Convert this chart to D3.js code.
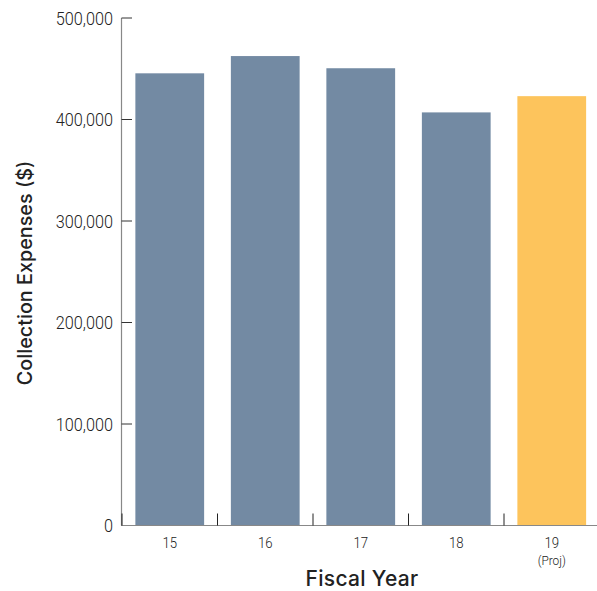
<!DOCTYPE html>
<html><head><meta charset="utf-8">
<script src="https://cdn.jsdelivr.net/npm/d3@7"></script>
<style>body{margin:0;background:#fff}svg{display:block}</style>
</head><body>
<script>
const categories = ["15", "16", "17", "18", "19"];
const subLabels = ["", "", "", "", "(Proj)"];
const values = [445500, 462500, 450500, 407000, 423000];
const projected = [false, false, false, false, true];
const yTicks = [0, 100000, 200000, 300000, 400000, 500000];

const W = 597, H = 591;
const svg = d3.select("body").append("svg").attr("width", W).attr("height", H);

const x = d3.scaleBand().domain(categories).range([122, 599.5]).paddingInner(0.28).paddingOuter(0.14);
const y = d3.scaleLinear().domain([0, 500000]).range([525.5, 18]);

// bars
svg.selectAll("rect.bar").data(values).enter().append("rect")
  .attr("x", (d, i) => x(categories[i]))
  .attr("width", x.bandwidth())
  .attr("y", d => y(d))
  .attr("height", d => y(0) - y(d))
  .attr("fill", (d, i) => projected[i] ? "#fdc45c" : "#738aa3");

// y axis
const fmt = d3.format(",");
svg.append("line").attr("x1", 121.5).attr("x2", 121.5).attr("y1", y(500000)).attr("y2", y(0))
  .attr("stroke", "#888").attr("stroke-width", 1.2);
svg.selectAll("line.yt").data(yTicks).enter().append("line")
  .attr("x1", 121.5).attr("x2", 132).attr("y1", d => y(d)).attr("y2", d => y(d))
  .attr("stroke", "#333").attr("stroke-width", 1);
svg.selectAll("text.yl").data(yTicks).enter().append("text")
  .attr("x", 113).attr("y", d => y(d)).attr("dy", "0.36em")
  .attr("text-anchor", "end")
  .attr("font-family", "Roboto").attr("font-weight", 300).attr("font-size", 18.5)
  .attr("fill", "#222")
  .attr("transform", d => `translate(${113},0) scale(0.88,1) translate(${-113},0)`)
  .text(d => fmt(d));

// x axis
svg.append("line").attr("x1", 121.5).attr("x2", W).attr("y1", y(0)).attr("y2", y(0))
  .attr("stroke", "#888").attr("stroke-width", 1.2);
const bounds = categories.map(c => x(c) - x.step() * x.paddingInner() / 2);
svg.selectAll("line.xt").data(bounds).enter().append("line")
  .attr("x1", d => d).attr("x2", d => d).attr("y1", y(0)).attr("y2", y(0) - 12)
  .attr("stroke", "#222").attr("stroke-width", 1);
svg.selectAll("text.xl").data(categories).enter().append("text")
  .attr("x", d => x(d) + x.bandwidth() / 2).attr("y", 548)
  .attr("text-anchor", "middle")
  .attr("font-family", "Roboto").attr("font-weight", 300).attr("font-size", 15)
  .attr("fill", "#222")
  .attr("transform", d => { const cx = x(d) + x.bandwidth() / 2; return `translate(${cx},0) scale(0.88,1) translate(${-cx},0)`; })
  .text(d => d);
svg.selectAll("text.xs").data(subLabels).enter().append("text")
  .attr("x", (d, i) => x(categories[i]) + x.bandwidth() / 2).attr("y", 565)
  .attr("text-anchor", "middle")
  .attr("font-family", "Roboto").attr("font-weight", 300).attr("font-size", 13.5)
  .attr("fill", "#222")
  .attr("transform", (d, i) => { const cx = x(categories[i]) + x.bandwidth() / 2; return `translate(${cx},0) scale(0.88,1) translate(${-cx},0)`; })
  .text(d => d);

// titles
svg.append("text").attr("x", 362).attr("y", 586).attr("text-anchor", "middle")
  .attr("font-family", "Inter").attr("font-weight", 500).attr("font-size", 21)
  .attr("letter-spacing", 0.3)
  .attr("fill", "#222").text("Fiscal Year");
svg.append("text").attr("transform", "translate(32,273) rotate(-90)")
  .attr("text-anchor", "middle")
  .attr("font-family", "Inter").attr("font-weight", 500).attr("font-size", 19.8)
  .attr("fill", "#222").text("Collection Expenses ($)");
</script>
</body></html>
